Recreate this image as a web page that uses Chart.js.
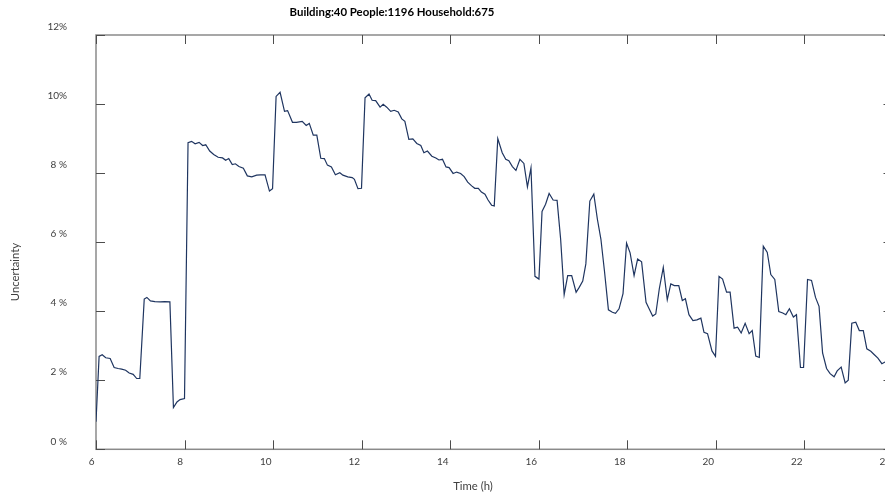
<!DOCTYPE html>
<html lang="en">

<head>
    <meta charset="UTF-8">
    <title>Building:40 People:1196 Household:675</title>
    <script src="https://cdn.jsdelivr.net/npm/chart.js"></script>
    <style>
        html, body { margin: 0; padding: 0; overflow: hidden; background: #fff; }
        #wrap { width: 900px; height: 494px; }
    </style>
</head>

<body>
    <div id="wrap"><canvas id="uncChart"></canvas></div>

    <script>
        // Texts
        const chartTitle = 'Building:40 People:1196 Household:675';
        const xTitle = 'Time (h)';
        const yTitle = 'Uncertainty';

        // Tick labels
        const xTicks = [6, 8, 10, 12, 14, 16, 18, 20, 22, 24];
        const yTickLabels = ['0 %', '2 %', '4 %', '6 %', '8 %', '10%', '12%'];

        // Time of day (hours)
        const hours = [
            6.00, 6.07, 6.14, 6.22, 6.32, 6.41, 6.50, 6.58, 6.67, 6.75, 6.84, 6.92, 6.99,
            7.09, 7.15, 7.23, 7.33, 7.45, 7.55, 7.67, 7.75, 7.83, 7.90, 8.00,
            8.08, 8.16, 8.24, 8.33, 8.41, 8.48, 8.57, 8.66, 8.76, 8.86, 8.93, 9.00,
            9.08, 9.15, 9.23, 9.33, 9.42, 9.52, 9.63, 9.72, 9.82, 9.92, 9.99,
            10.07, 10.16, 10.26, 10.33, 10.44, 10.53, 10.66, 10.75, 10.82, 10.91, 10.99,
            11.08, 11.16, 11.23, 11.32, 11.41, 11.51, 11.58, 11.69, 11.79, 11.84, 11.92, 12.00,
            12.08, 12.17, 12.24, 12.32, 12.42, 12.49, 12.57, 12.66, 12.74, 12.83, 12.91, 12.98,
            13.07, 13.16, 13.25, 13.34, 13.41, 13.49, 13.59, 13.68, 13.75, 13.83, 13.91, 13.98,
            14.07, 14.15, 14.24, 14.32, 14.40, 14.49, 14.56, 14.64, 14.71, 14.79, 14.86, 14.94, 15.00,
            15.08, 15.18, 15.26, 15.33, 15.41, 15.49, 15.58, 15.67, 15.75, 15.83, 15.92, 16.01,
            16.08, 16.16, 16.24, 16.33, 16.42, 16.50, 16.58, 16.66, 16.75, 16.85, 16.92, 17.00,
            17.07, 17.16, 17.25, 17.33, 17.41, 17.49, 17.58, 17.67, 17.74, 17.82, 17.91, 17.99,
            18.07, 18.16, 18.24, 18.33, 18.43, 18.50, 18.58, 18.65, 18.73, 18.82, 18.91, 18.99,
            19.07, 19.17, 19.25, 19.32, 19.40, 19.49, 19.58, 19.67, 19.74, 19.82, 19.92, 20.00,
            20.08, 20.16, 20.25, 20.33, 20.42, 20.50, 20.58, 20.67, 20.76, 20.83, 20.91, 20.99,
            21.08, 21.17, 21.25, 21.34, 21.43, 21.52, 21.59, 21.67, 21.76, 21.83, 21.92, 21.99,
            22.08, 22.17, 22.26, 22.34, 22.42, 22.51, 22.59, 22.68, 22.75, 22.84, 22.93, 23.00,
            23.08, 23.17, 23.25, 23.34, 23.42, 23.51, 23.59, 23.67, 23.76, 23.83, 23.92
        ];

        // Uncertainty (%)
        const uncertainty = [
            0.80, 2.69, 2.74, 2.65, 2.63, 2.37, 2.34, 2.32, 2.29, 2.21, 2.17, 2.05, 2.05,
            4.35, 4.40, 4.30, 4.28, 4.27, 4.28, 4.27, 1.21, 1.37, 1.44, 1.47,
            8.88, 8.92, 8.85, 8.89, 8.80, 8.82, 8.64, 8.54, 8.46, 8.44, 8.37, 8.42,
            8.25, 8.27, 8.19, 8.14, 7.92, 7.89, 7.94, 7.95, 7.95, 7.48, 7.55,
            10.22, 10.34, 9.79, 9.81, 9.47, 9.47, 9.50, 9.38, 9.44, 9.10, 9.10,
            8.43, 8.42, 8.23, 8.18, 7.95, 8.01, 7.94, 7.89, 7.87, 7.82, 7.55, 7.56,
            10.18, 10.29, 10.11, 10.10, 9.91, 9.99, 9.91, 9.79, 9.82, 9.77, 9.57, 9.50,
            8.98, 8.99, 8.86, 8.80, 8.59, 8.64, 8.49, 8.44, 8.38, 8.40, 8.18, 8.16,
            7.99, 8.03, 7.99, 7.90, 7.74, 7.63, 7.56, 7.56, 7.45, 7.39, 7.22, 7.07, 7.05,
            9.00, 8.59, 8.40, 8.36, 8.19, 8.08, 8.40, 8.28, 7.60, 8.15, 5.01, 4.93,
            6.89, 7.10, 7.41, 7.22, 7.21, 6.09, 4.48, 5.03, 5.03, 4.55, 4.69, 4.87,
            5.37, 7.19, 7.39, 6.67, 6.09, 5.17, 4.04, 3.97, 3.94, 4.07, 4.51, 5.97,
            5.69, 5.03, 5.51, 5.43, 4.26, 4.07, 3.86, 3.92, 4.65, 5.27, 4.33, 4.79,
            4.74, 4.74, 4.31, 4.36, 3.90, 3.73, 3.75, 3.80, 3.39, 3.35, 2.85, 2.69,
            5.01, 4.93, 4.55, 4.55, 3.51, 3.54, 3.37, 3.65, 3.35, 3.44, 2.70, 2.66,
            5.88, 5.70, 5.06, 4.92, 3.99, 3.95, 3.90, 4.07, 3.83, 3.90, 2.37, 2.37,
            4.92, 4.89, 4.40, 4.14, 2.79, 2.34, 2.19, 2.10, 2.27, 2.38, 1.92, 2.00,
            3.65, 3.68, 3.44, 3.44, 2.91, 2.84, 2.74, 2.64, 2.48, 2.53, 2.55
        ];

        const lineColor = '#1f3560';
        const labelFont = { family: 'Lato', size: 10 };

        // Frame with inward ticks on all four sides, plus title and axis names
        const framePlugin = {
            id: 'frame',
            beforeDatasetsDraw(chart) {
                const { ctx, chartArea: a, scales: { x, y } } = chart;
                ctx.save();
                ctx.strokeStyle = '#8a8a8a';
                ctx.lineWidth = 1.5;
                ctx.strokeRect(a.left, a.top, a.right - a.left, a.bottom - a.top);
                ctx.strokeStyle = '#4d4d4d';
                ctx.lineWidth = 1;
                ctx.beginPath();
                x.ticks.forEach(t => {
                    const px = Math.round(x.getPixelForValue(t.value)) + 0.5;
                    ctx.moveTo(px, a.bottom); ctx.lineTo(px, a.bottom - 9);
                    ctx.moveTo(px, a.top); ctx.lineTo(px, a.top + 9);
                });
                y.ticks.forEach(t => {
                    const py = Math.round(y.getPixelForValue(t.value)) + 0.5;
                    ctx.moveTo(a.left, py); ctx.lineTo(a.left + 9, py);
                    ctx.moveTo(a.right, py); ctx.lineTo(a.right - 9, py);
                });
                ctx.stroke();
                ctx.restore();
            },
            afterDraw(chart) {
                const { ctx } = chart;
                ctx.save();
                ctx.fillStyle = '#000';
                ctx.textAlign = 'center';
                ctx.textBaseline = 'middle';
                ctx.font = 'bold 11.4px Lato';
                ctx.fillText(chartTitle, 392, 12);
                ctx.fillStyle = '#404040';
                ctx.font = '11.3px Lato';
                ctx.fillText(xTitle, 473, 486);
                ctx.translate(15, 272);
                ctx.rotate(-Math.PI / 2);
                ctx.fillText(yTitle, 0, 0);
                ctx.restore();
            }
        };

        const ctx = document.getElementById('uncChart').getContext('2d');
        new Chart(ctx, {
            type: 'line',
            data: {
                datasets: [{
                    data: hours.map((h, i) => ({ x: h, y: uncertainty[i] })),
                    borderColor: lineColor,
                    borderWidth: 1.2,
                    pointRadius: 0,
                    tension: 0,
                    fill: false
                }]
            },
            options: {
                responsive: true,
                maintainAspectRatio: false,
                animation: false,
                layout: { padding: { top: 33.5, right: 7.5, left: 0, bottom: 0 } },
                plugins: {
                    legend: { display: false },
                    tooltip: { enabled: false }
                },
                scales: {
                    x: {
                        type: 'linear',
                        min: xTicks[0],
                        max: xTicks[xTicks.length - 1],
                        afterBuildTicks: scale => { scale.ticks = xTicks.map(v => ({ value: v })); },
                        afterFit: scale => { scale.height = 44.7; },
                        grid: { display: false, drawTicks: false },
                        border: { display: false },
                        ticks: {
                            align: 'end',
                            labelOffset: -1.5,
                            padding: 6,
                            maxRotation: 0,
                            color: '#404040',
                            font: labelFont,
                            callback: v => String(v)
                        }
                    },
                    y: {
                        min: 0,
                        max: 12,
                        afterBuildTicks: scale => { scale.ticks = yTickLabels.map((_, i) => ({ value: i * 2 })); },
                        afterFit: scale => { scale.width = 96; },
                        grid: { display: false, drawTicks: false },
                        border: { display: false },
                        ticks: {
                            padding: 29,
                            labelOffset: -8,
                            color: '#404040',
                            font: labelFont,
                            callback: v => yTickLabels[v / 2]
                        }
                    }
                }
            },
            plugins: [framePlugin]
        });
    </script>
</body>

</html>
